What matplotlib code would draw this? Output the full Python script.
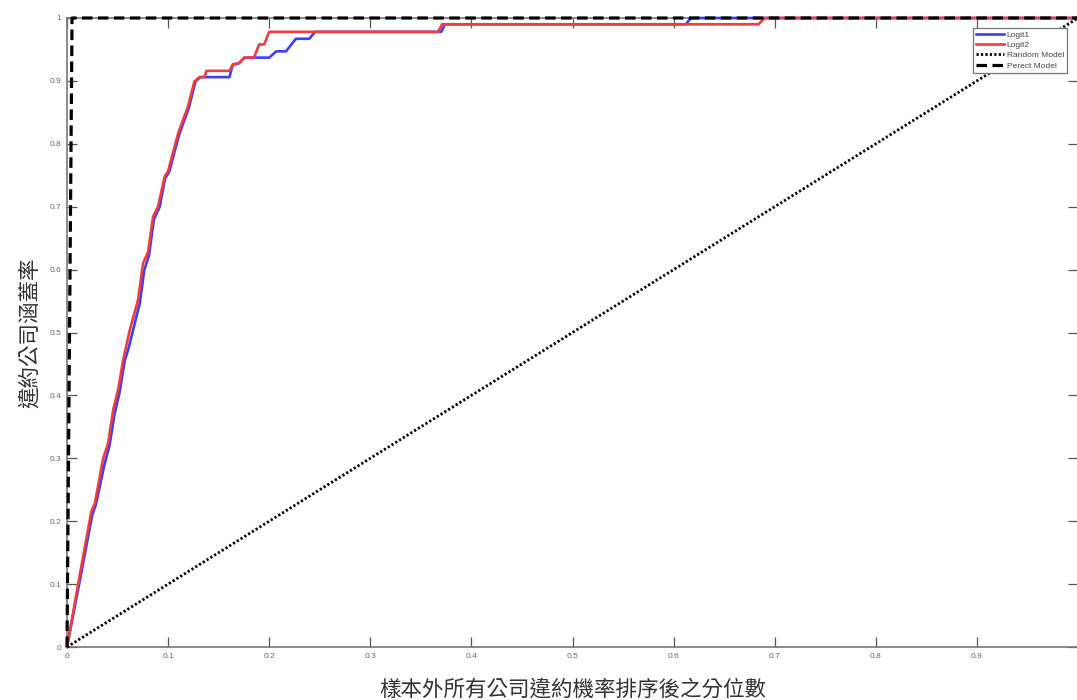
import matplotlib
matplotlib.use("Agg")
import matplotlib.pyplot as plt

# ---- data ----
logit1_x = [0, 0.012, 0.025, 0.0285, 0.037, 0.042, 0.047, 0.052, 0.0572, 0.0604, 0.0637,
            0.072, 0.0765, 0.081, 0.086, 0.0917, 0.097, 0.101, 0.111, 0.1205, 0.127, 0.132,
            0.1607, 0.164, 0.170, 0.1755, 0.200, 0.207, 0.2166, 0.2264, 0.2396, 0.2455,
            0.370, 0.374, 0.612, 0.617, 1.0]
logit1_y = [0, 0.10, 0.21, 0.226, 0.29, 0.32, 0.37, 0.405, 0.456, 0.472, 0.493,
            0.547, 0.60, 0.622, 0.68, 0.70, 0.745, 0.755, 0.815, 0.857, 0.899, 0.906,
            0.906, 0.926, 0.928, 0.937, 0.937, 0.947, 0.947, 0.967, 0.967, 0.978,
            0.978, 0.99, 0.99, 1.0, 1.0]

logit2_x = [0, 0.011, 0.024, 0.0276, 0.0358, 0.0407, 0.0457, 0.0506, 0.0555, 0.0621,
            0.0703, 0.0752, 0.0802, 0.0851, 0.09, 0.0966, 0.0999, 0.11, 0.1196, 0.126,
            0.131, 0.136, 0.138, 0.1607, 0.164, 0.170, 0.1755, 0.185, 0.19, 0.195, 0.2,
            0.367, 0.371, 0.684, 0.69, 1.0]
logit2_y = [0, 0.10, 0.215, 0.229, 0.30, 0.324, 0.377, 0.409, 0.456, 0.504,
            0.552, 0.61, 0.628, 0.684, 0.70, 0.748, 0.756, 0.817, 0.859, 0.899,
            0.906, 0.906, 0.916, 0.916, 0.926, 0.928, 0.937, 0.937, 0.958, 0.958, 0.978,
            0.978, 0.99, 0.99, 1.0, 1.0]

random_x = [0, 1]
random_y = [0, 1]

perfect_x = [0, 0.005, 1]
perfect_y = [0, 1, 1]

legend_labels = ["Logit1", "Logit2", "Random Model", "Perect Model"]
xtick_vals = [0, 0.1, 0.2, 0.3, 0.4, 0.5, 0.6, 0.7, 0.8, 0.9]
xtick_labels = ["0", "0.1", "0.2", "0.3", "0.4", "0.5", "0.6", "0.7", "0.8", "0.9"]
ytick_vals = [0, 0.1, 0.2, 0.3, 0.4, 0.5, 0.6, 0.7, 0.8, 0.9, 1]
ytick_labels = ["0", "0.1", "0.2", "0.3", "0.4", "0.5", "0.6", "0.7", "0.8", "0.9", "1"]
xlabel = "樣本外所有公司違約機率排序後之分位數"
ylabel = "違約公司涵蓋率"

# ---- figure ----
W, H = 1077, 700
fig = plt.figure(figsize=(W / 100, H / 100), dpi=100)
left, right, bottom, top = 67, 1078, 647, 18
ax = fig.add_axes([left / W, (H - bottom) / H, (right - left) / W, (bottom - top) / H])

ax.plot(logit1_x, logit1_y, color="#3c3cff", lw=1.9, label=legend_labels[0],
        clip_on=False, zorder=3)
ax.plot(logit2_x, logit2_y, color="#f03c3c", lw=1.9, label=legend_labels[1],
        clip_on=False, zorder=3.1)
ax.plot(random_x, random_y, color="black", lw=2.0, linestyle=(0, (0.8, 0.8)),
        label=legend_labels[2], clip_on=False, zorder=3.2)
ax.plot(perfect_x, perfect_y, color="black", lw=2.3, linestyle=(0, (3.3, 1.7)),
        label=legend_labels[3], clip_on=False, zorder=3.3)

ax.set_xlim(0, 1)
ax.set_ylim(0, 1)

tick_font = dict(family=["Liberation Sans", "DejaVu Sans"], size=6, color="#666666")
ax.set_xticks(xtick_vals)
ax.set_xticklabels(xtick_labels, **tick_font)
ax.set_yticks(ytick_vals)
ax.set_yticklabels(ytick_labels, **tick_font)
ax.tick_params(direction="in", length=7, width=0.9, color="#555555",
               top=True, right=True, pad=4)

for s in ax.spines.values():
    s.set_color("#777777")
    s.set_linewidth(1.2)

cjk = ["Noto Sans CJK TC", "DejaVu Sans"]
ax.set_xlabel(xlabel, family=cjk, fontsize=15.5, color="#333333", labelpad=14)
ax.set_ylabel(ylabel, family=cjk, fontsize=15.5, color="#333333", labelpad=6)

leg = ax.legend(loc="upper right", bbox_to_anchor=(1067 / W, 1 - 28 / H),
                bbox_transform=fig.transFigure, borderaxespad=0,
                prop={"family": ["Liberation Sans", "DejaVu Sans"], "size": 6},
                fancybox=False, framealpha=1, edgecolor="#777777",
                handlelength=3.4, handletextpad=0.3, labelspacing=0.3,
                borderpad=0.35)
leg.get_frame().set_linewidth(0.9)
leg.set_zorder(5)
for t in leg.get_texts():
    t.set_color("#444444")

fig.savefig("out.png", dpi=100)
